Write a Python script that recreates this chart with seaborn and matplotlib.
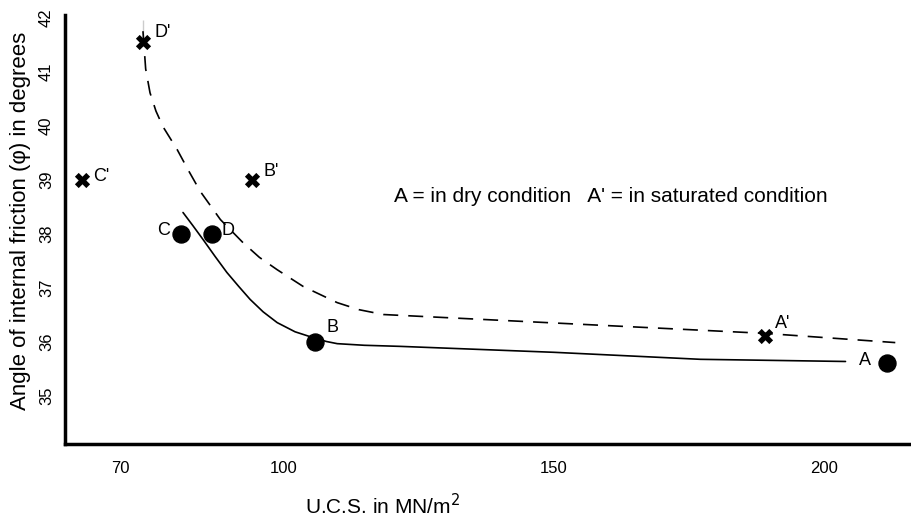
import matplotlib
matplotlib.use("Agg")
import matplotlib.pyplot as plt
import seaborn as sns
import pandas as pd

sns.set_theme(style="white")
plt.rcParams['font.family'] = ['Liberation Sans', 'DejaVu Sans']

# Measured points: dry (circles) and saturated (crosses)
dry_labels = ["A", "B", "C", "D"]
dry_ucs = [211.6, 105.9, 81.1, 86.9]
dry_phi = [35.6, 36.0, 38.0, 38.0]

sat_labels = ["A'", "B'", "C'", "D'"]
sat_ucs = [189.1, 94.3, 62.8, 74.1]
sat_phi = [36.1, 39.0, 39.0, 41.55]

# Hand-fitted trend curves
dry_curve_x = [81.5, 83.3, 85.2, 87.4, 89.6, 91.8, 93.9, 96.3, 98.9, 102.2, 105.9,
               108.0, 110.0, 115.0, 121.6, 150.0, 177.1, 203.9]
dry_curve_y = [38.39, 38.15, 37.89, 37.58, 37.28, 37.02, 36.78, 36.55, 36.35, 36.18, 36.06,
               36.00, 35.96, 35.93, 35.91, 35.80, 35.67, 35.63]

sat_curve_x = [74.1, 74.1, 74.6, 75.4, 76.5, 77.8, 80.4, 82.5, 84.7, 88.4, 92.6, 95.6,
               98.9, 103.7, 110.0, 114.0, 118.5, 189.1, 213.1]
sat_curve_y = [41.96, 41.54, 41.05, 40.61, 40.27, 39.98, 39.56, 39.17, 38.78, 38.26, 37.83,
               37.56, 37.33, 37.02, 36.72, 36.59, 36.50, 36.15, 35.98]

x_ticks = [70, 100, 150, 200]
y_ticks = [35, 36, 37, 38, 39, 40, 41, 42]

fig = plt.figure(figsize=(9.12, 5.28), dpi=100)
ax = fig.add_axes([0.0713, 0.159, 0.927, 0.8126])

dry_curve = pd.DataFrame({"ucs": dry_curve_x, "phi": dry_curve_y})
sat_curve = pd.DataFrame({"ucs": sat_curve_x, "phi": sat_curve_y})
sns.lineplot(data=dry_curve, x="ucs", y="phi", sort=False, color="black",
             linewidth=1.2, ax=ax)
sns.lineplot(data=sat_curve, x="ucs", y="phi", sort=False, color="black",
             linewidth=1.2, dashes=False, ax=ax, linestyle=(0, (9, 6)))

dry = pd.DataFrame({"ucs": dry_ucs, "phi": dry_phi, "label": dry_labels})
sat = pd.DataFrame({"ucs": sat_ucs, "phi": sat_phi, "label": sat_labels})
sns.scatterplot(data=dry, x="ucs", y="phi", color="black", s=150,
                marker="o", edgecolor="black", zorder=5, ax=ax)
sns.scatterplot(data=sat, x="ucs", y="phi", color="black", s=120,
                marker="X", linewidth=0, zorder=5, ax=ax)

# Point labels: (dx, dy) in points, horizontal alignment
label_offsets = {
    "A": (-12, 2, "right"), "B": (8, 10, "left"), "C": (-8, 2, "right"),
    "D": (7, 2, "left"), "A'": (7, 9, "left"), "B'": (8, 6, "left"),
    "C'": (8, 2, "left"), "D'": (8, 7, "left"),
}
for lab, xv, yv in list(zip(dry_labels, dry_ucs, dry_phi)) + list(zip(sat_labels, sat_ucs, sat_phi)):
    dx, dy, ha = label_offsets[lab]
    ax.annotate(lab, (xv, yv), xytext=(dx, dy), textcoords="offset points",
                ha=ha, va="center", fontsize=13, color="black")

ax.text(120.5, 38.69, "A = in dry condition   A' = in saturated condition",
        fontsize=15, va="center", ha="left", color="black")

ax.set_xlim(59.7, 215.9)
ax.set_ylim(34.1, 42.05)
ax.set_xticks(x_ticks)
ax.set_yticks(y_ticks)
ax.tick_params(axis="both", direction="in", length=3, width=1, colors="black",
               labelsize=12)
ax.tick_params(axis="x", pad=12)
ax.tick_params(axis="y", pad=8)
for t in ax.get_yticklabels():
    t.set_rotation(90)
    t.set_va("center")

for side in ["top", "right"]:
    ax.spines[side].set_visible(False)
for side in ["left", "bottom"]:
    ax.spines[side].set_color("black")
    ax.spines[side].set_linewidth(2.5)

ax.set_xlabel("U.C.S. in MN/m$^2$", fontsize=15, color="black")
ax.set_ylabel("Angle of internal friction (\u03c6) in degrees", fontsize=16, color="black")
ax.xaxis.set_label_coords(0.376, -0.115)
ax.yaxis.set_label_coords(-0.04, 0.52)
ax.grid(False)

fig.savefig("out.png", dpi=100)
